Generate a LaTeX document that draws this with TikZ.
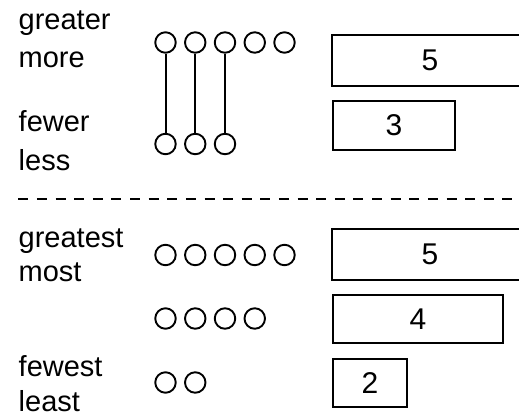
\documentclass[tikz,border=0pt]{standalone}
\usepackage{fontspec}
\setmainfont{Liberation Sans}
\begin{document}
\begin{tikzpicture}[x=1pt,y=-1pt,
  lbl/.style={anchor=base west,inner sep=0pt,font=\fontsize{29}{34}\selectfont},
  dot/.style={circle,draw,line width=1.9pt,minimum size=20.5pt,inner sep=0pt},
  bar/.style={draw,line width=2.3pt,inner sep=0pt,minimum height=48.5pt,font=\fontsize{30}{36}\selectfont},
  openbar/.style={bar,draw=none},
  edge/.style={line width=2.3pt},
  link/.style={line width=2pt},
  sep/.style={line width=2.3pt,dash pattern=on 10pt off 8.62pt}]
\useasboundingbox (0,0) rectangle (520,416);
% labels
\node[lbl] (greater) at (18.5,29) {greater};
\node[lbl] (more) at (18.5,67.5) {more};
\node[lbl] (fewer) at (18.5,131) {fewer};
\node[lbl] (less) at (18.5,170.5) {less};
\node[lbl] (greatest) at (18.5,247) {greatest};
\node[lbl] (most) at (18.5,281.5) {most};
\node[lbl] (fewest) at (18.5,376) {fewest};
\node[lbl] (least) at (18.5,411) {least};
% top circles
\foreach \i in {1,...,5} {\node[dot] (t\i) at ({165.5+(\i-1)*29.75},42.5) {};}
\foreach \i in {1,...,3} {\node[dot] (b\i) at ({165.5+(\i-1)*29.75},144) {};}
\foreach \i in {1,...,3} {\draw[link] (t\i) -- (b\i);}
% boxes top (the 5-box runs off the right edge)
\node[openbar,minimum width=194pt] (five) at (430,60.3) {5};
\path (five.north west) ++(187,0) coordinate (fiveNE);
\path (five.south west) ++(187,0) coordinate (fiveSE);
\draw[edge] (fiveNE) -- (five.north west) -- (five.south west) -- (fiveSE);
\node[bar,minimum width=122pt] (three) at (394,125.5) {3};
% separator
\coordinate (sl) at (18.3,199);
\coordinate (sr) at (516,199);
\draw[sep] (sl) -- (sr);
% lower circles
\foreach \i in {1,...,5} {\node[dot] (p\i) at ({165.5+(\i-1)*29.75},255) {};}
\foreach \i in {1,...,4} {\node[dot] (q\i) at ({165.5+(\i-1)*29.75},318.5) {};}
\foreach \i in {1,...,2} {\node[dot] (r\i) at ({165.5+(\i-1)*29.75},382.5) {};}
% lower boxes
\node[openbar,minimum width=194pt] (fiveb) at (430,254.5) {5};
\path (fiveb.north west) ++(187,0) coordinate (fivebNE);
\path (fiveb.south west) ++(187,0) coordinate (fivebSE);
\draw[edge] (fivebNE) -- (fiveb.north west) -- (fiveb.south west) -- (fivebSE);
\node[bar,minimum width=170pt] (four) at (418,319) {4};
\node[bar,minimum width=74pt] (two) at (370,383) {2};
\end{tikzpicture}
\end{document}
